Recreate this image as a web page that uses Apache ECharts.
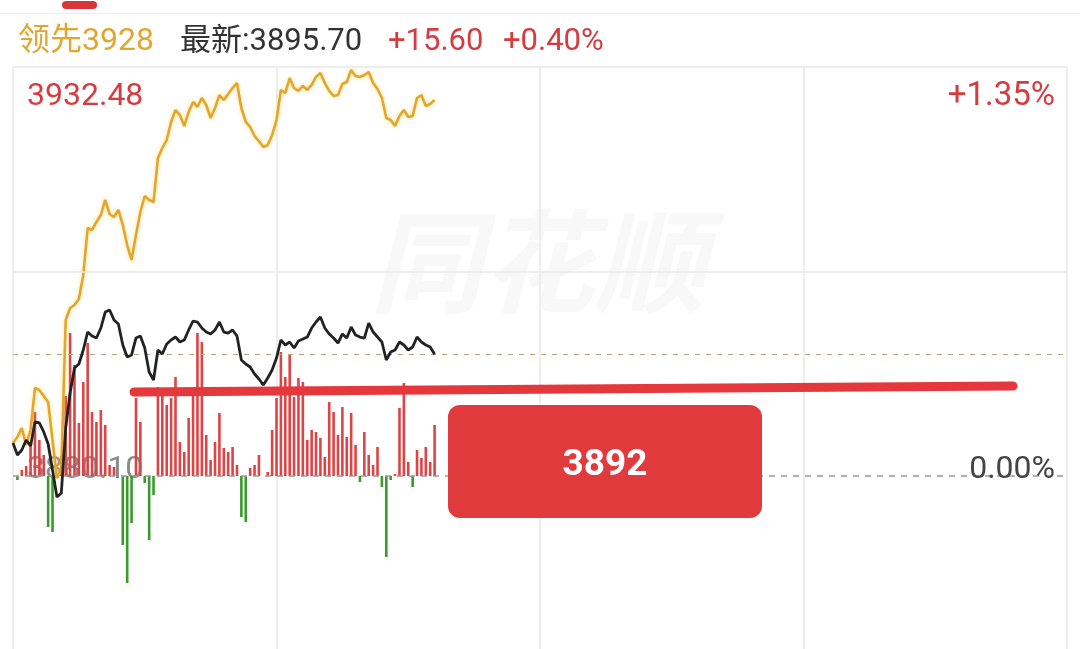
<!DOCTYPE html>
<html><head><meta charset="utf-8">
<script src="https://cdn.jsdelivr.net/npm/echarts@6/dist/echarts.min.js"></script>
<style>html,body{margin:0;padding:0;background:#fff}#c{width:1080px;height:649px}</style>
</head><body><div id="c"></div>
<script>
const prevClose = 3880.10;
const topPrice = 3932.48;
const latest = 3895.70;
const headerTexts = ['领先3928', '最新:3895.70', '+15.60', '+0.40%'];
const leftLabels = ['3932.48', '3880.10'];
const rightLabels = ['+1.35%', '0.00%'];
const boxLabel = '3892';
const goldVals = [3884.33,3885.09,3886.25,3884.07,3885.99,3891.37,3891.11,3890.35,3889.58,3884.71,
3879.84,3880.87,3900.08,3901.62,3902.00,3902.77,3905.84,3911.86,3911.61,3912.63,
3913.53,3915.45,3913.65,3913.27,3914.17,3912.25,3909.68,3907.76,3910.96,3913.91,
3915.96,3915.45,3915.19,3920.83,3922.11,3923.13,3925.44,3926.97,3926.33,3924.92,
3926.72,3928.00,3927.36,3928.51,3927.61,3925.95,3927.23,3928.89,3928.25,3929.02,
3929.79,3930.43,3927.23,3925.44,3924.80,3923.64,3923.00,3922.23,3922.49,3923.77,
3925.69,3929.54,3929.15,3931.07,3929.79,3929.41,3930.05,3929.54,3930.18,3931.20,
3931.71,3930.43,3929.41,3928.77,3928.89,3930.30,3930.56,3932.10,3931.33,3931.20,
3931.46,3931.84,3930.43,3929.66,3928.51,3925.95,3925.69,3924.92,3926.21,3926.97,
3926.08,3926.21,3928.51,3928.89,3927.49,3927.74,3928.25];
const blackVals = [3884.33,3882.79,3883.43,3884.71,3883.94,3887.02,3886.89,3885.74,3884.20,3880.87,
3877.41,3877.92,3886.25,3890.73,3893.93,3894.44,3896.24,3898.54,3898.03,3897.77,
3899.05,3901.10,3901.36,3900.08,3899.57,3896.88,3895.34,3895.60,3897.77,3898.03,
3896.49,3893.42,3892.39,3896.24,3895.72,3897.01,3897.52,3897.90,3897.26,3897.52,
3898.80,3899.95,3899.82,3899.05,3898.54,3898.29,3898.80,3899.82,3898.54,3898.41,
3898.80,3898.03,3894.96,3894.44,3894.06,3893.16,3892.52,3891.75,3892.65,3893.68,
3895.21,3897.52,3896.88,3897.26,3896.49,3897.39,3897.65,3897.90,3899.05,3899.82,
3900.46,3899.05,3898.29,3897.77,3897.13,3898.29,3897.77,3899.18,3898.16,3897.90,
3897.77,3899.69,3898.54,3897.90,3897.26,3894.96,3895.98,3896.24,3897.26,3896.88,
3896.24,3896.62,3897.90,3897.26,3896.88,3896.62,3895.70];
const barVals = [0,-4,6,10,31,64,36,21,-51,-56,
0,20,80,143,111,53,94,133,64,54,
66,51,11,9,0,-69,-107,-47,78,54,
-7,-64,-19,89,88,71,78,99,34,24,
58,81,143,134,41,16,34,63,28,24,
29,11,-41,-46,8,11,21,0,4,46,
78,124,99,121,79,98,94,36,46,44,
38,19,74,64,41,69,39,63,31,-6,
44,21,11,29,-11,-81,-4,2,68,93,
14,-11,26,18,29,14,51];

const chart = echarts.init(document.getElementById('c'));
const FONT = 'Roboto, "Noto Sans CJK SC", sans-serif';
const RED = '#d63b3f';
const GOLD = '#e2a52e';
const gridColor = '#e8e8e8';
const priceMin = prevClose - (topPrice - prevClose) * 173 / 409;

const goldData = goldVals.map((v, i) => [i, v]);
const blackData = blackVals.map((v, i) => [i, v]);
const barData = barVals.map((v, i) => [i, v]);

chart.setOption({
  animation: false,
  backgroundColor: '#fff',
  grid: { left: 13, right: 13, top: 67, bottom: 0 },
  xAxis: { type: 'value', min: 0, max: 240, interval: 60,
    axisLine: { show: false }, axisTick: { show: false }, axisLabel: { show: false },
    splitLine: { show: true, lineStyle: { color: gridColor, width: 1.5 } } },
  yAxis: [
    { type: 'value', min: priceMin, max: topPrice, show: false, splitLine: { show: false } },
    { type: 'value', min: -173, max: 409, show: false, splitLine: { show: false } }
  ],
  series: [
    { type: 'bar', yAxisIndex: 1, data: barData, barWidth: 2.6, z: 2,
      itemStyle: { color: p => p.value[1] >= 0 ? '#dc4446' : '#3a9a2c' } },
    { type: 'line', data: goldData, symbol: 'none', z: 4,
      lineStyle: { color: GOLD, width: 2.6, shadowColor: 'rgba(255,205,60,0.6)', shadowBlur: 4 },
      markLine: { silent: true, symbol: 'none', label: { show: false },
        data: [
          { yAxis: topPrice, lineStyle: { color: gridColor, width: 1.5, type: 'solid' } },
          { yAxis: (topPrice + prevClose) / 2, lineStyle: { color: gridColor, width: 1.5, type: 'solid' } },
          { yAxis: latest, lineStyle: { color: '#b9a67a', width: 1.2, type: [5, 6] } },
          { yAxis: prevClose, lineStyle: { color: '#9a9a9a', width: 1.5, type: [6, 6] } }
        ] } },
    { type: 'line', data: blackData, symbol: 'none', z: 5,
      lineStyle: { color: '#222', width: 2.8 } }
  ],
  graphic: [
    { type: 'text', left: 370, top: 205, z: 0, silent: true,
      style: { text: '同花顺', fill: '#f8f8f8', font: 'italic bold 112px "Noto Sans CJK SC"' } },
    { type: 'rect', z: 0, shape: { x: 0, y: 13, width: 1080, height: 1 }, style: { fill: '#eeeeee' } },
    { type: 'rect', z: 0, shape: { x: 62, y: 1, width: 35, height: 8, r: 4 }, style: { fill: '#d9363b' } },
    { type: 'text', z: 10, x: 18, y: 42, style: { text: headerTexts[0], fill: GOLD, font: '32px ' + FONT, textVerticalAlign: 'middle' } },
    { type: 'text', z: 10, x: 180, y: 42, style: { text: headerTexts[1], fill: '#333', font: '31px ' + FONT, textVerticalAlign: 'middle' } },
    { type: 'text', z: 10, x: 388, y: 42, style: { text: headerTexts[2], fill: RED, font: '31px ' + FONT, textVerticalAlign: 'middle' } },
    { type: 'text', z: 10, x: 503, y: 42, style: { text: headerTexts[3], fill: RED, font: '31px ' + FONT, textVerticalAlign: 'middle' } },
    { type: 'text', z: 10, x: 27, y: 97, style: { text: leftLabels[0], fill: RED, font: '32px ' + FONT, textVerticalAlign: 'middle' } },
    { type: 'text', z: 1, x: 27, y: 470, style: { text: leftLabels[1], fill: '#8a8a8a', font: '32px ' + FONT, textVerticalAlign: 'middle' } },
    { type: 'text', z: 10, x: 1055, y: 97, style: { text: rightLabels[0], fill: RED, font: '33px ' + FONT, textAlign: 'right', textVerticalAlign: 'middle' } },
    { type: 'text', z: 10, x: 1055, y: 470, style: { text: rightLabels[1], fill: '#444', font: '32px ' + FONT, textAlign: 'right', textVerticalAlign: 'middle' } },
    { type: 'line', z: 100, shape: { x1: 134, y1: 392, x2: 1013, y2: 386 },
      style: { stroke: '#e5383d', lineWidth: 9, lineCap: 'round' } },
    { type: 'rect', z: 100, shape: { x: 448, y: 405, width: 314, height: 113, r: 12 },
      style: { fill: '#e03a3d' } },
    { type: 'text', z: 101, x: 605, y: 466, style: { text: boxLabel, fill: '#fff', font: 'bold 37px ' + FONT, textAlign: 'center', textVerticalAlign: 'middle' } }
  ]
});
</script></body></html>
